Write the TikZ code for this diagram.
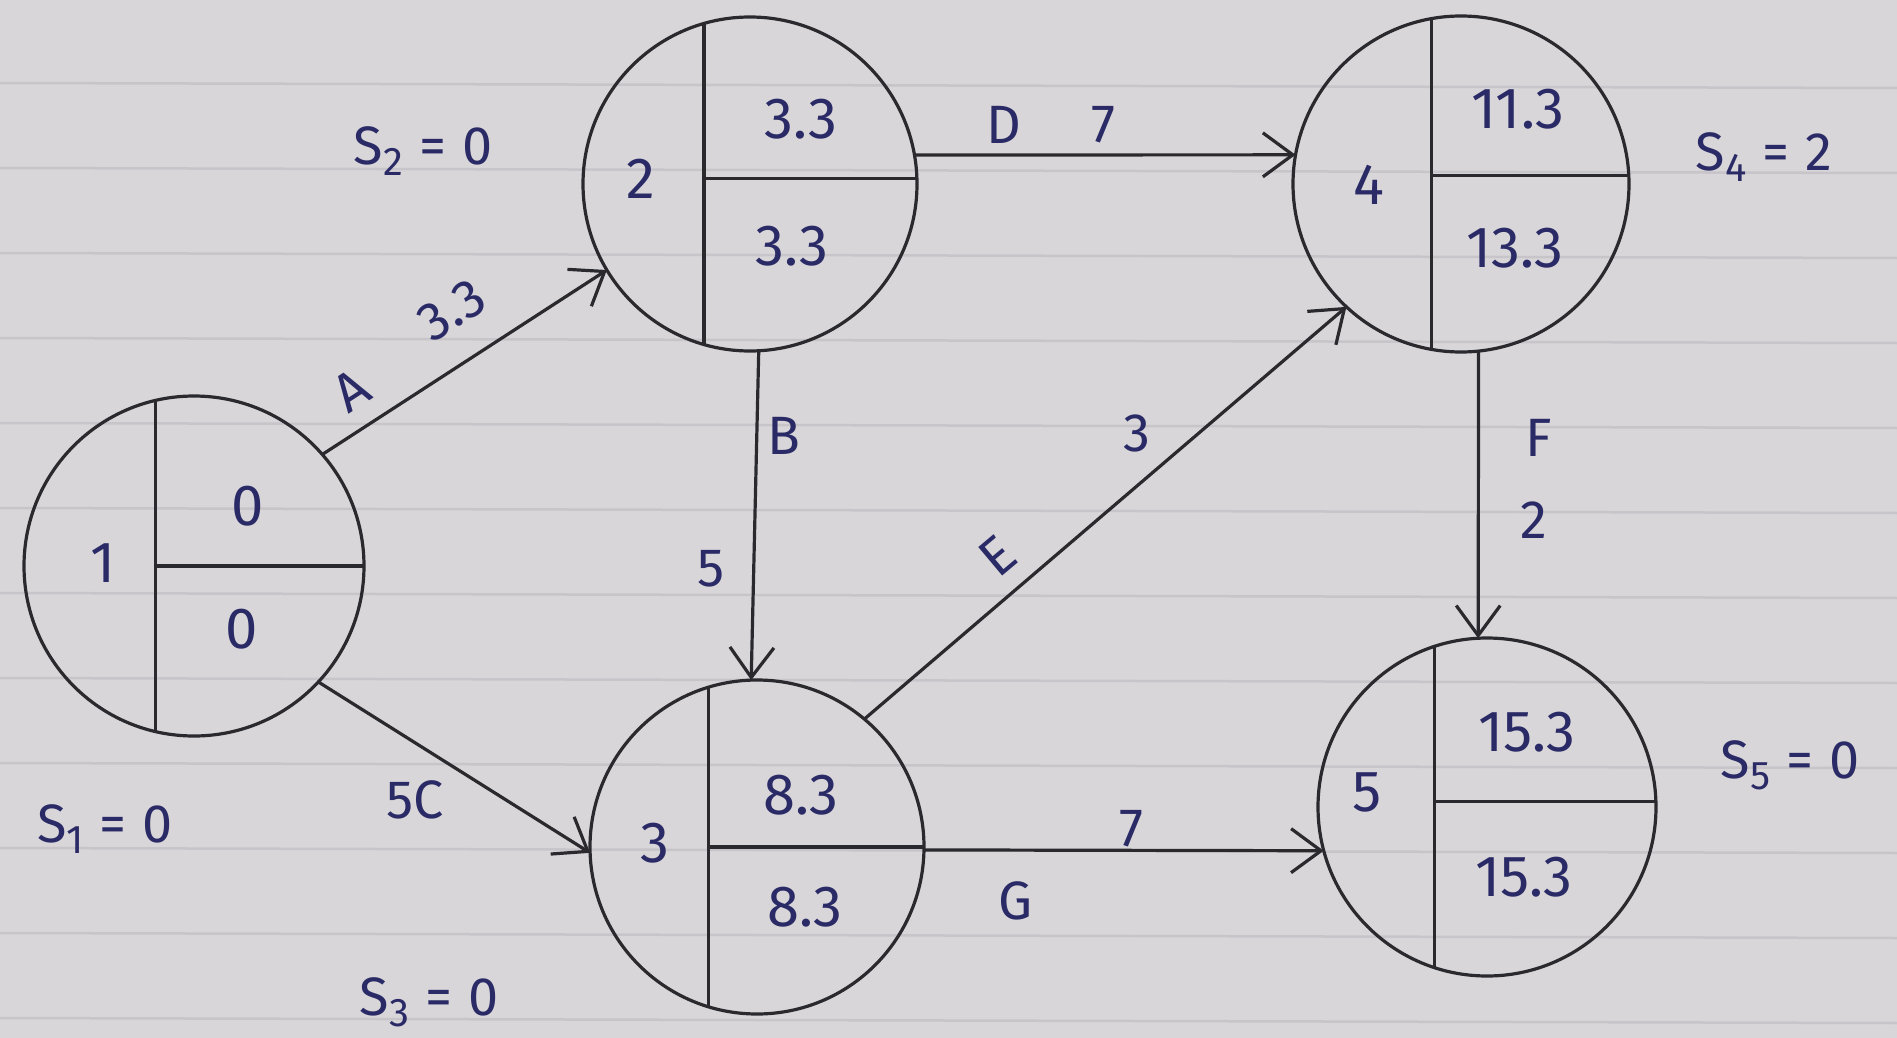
\documentclass[tikz,border=0pt]{standalone}
\usepackage{fontspec}
\setmainfont{Fira Sans}
\usetikzlibrary{arrows.meta}
\definecolor{paper}{HTML}{D9D6DA}
\definecolor{rule}{HTML}{C8C5CA}
\definecolor{ink}{HTML}{2A2B66}
\definecolor{pencil}{HTML}{2A2A2E}
\newcommand\mysub[1]{\raisebox{-0.4ex}{\fontsize{40}{40}\selectfont #1}}
\newcommand\myeq{\hspace{16pt}=\hspace{16pt}}
\tikzset{
  evt/.style={circle,draw=pencil,line width=3.2pt,inner sep=0pt,outer sep=0pt},
  part/.style={draw=pencil,line width=3.2pt},
  act/.style={draw=pencil,line width=3.2pt,-{Straight Barb[length=30pt,width=44pt,line width=3.2pt]}},
  num/.style={text=ink,font=\fontsize{58}{58}\selectfont,inner sep=0pt},
  lab/.style={text=ink,font=\fontsize{54}{54}\selectfont,inner sep=0pt},
  slk/.style={text=ink,font=\fontsize{54}{54}\selectfont,inner sep=0pt},
  ruleline/.style={draw=rule,line width=2.5pt}
}
\begin{document}
\begin{tikzpicture}[x=1pt,y=-1pt]
\useasboundingbox (0,0) rectangle (1897,1038);
\fill[paper] (0,0) rectangle (1897,1038);
\foreach \k in {1,...,12} {\draw[ruleline] (0,85*\k-2) -- (1897,85*\k+3);}
% events
\node[evt,minimum size=340pt] (n1) at (194,566) {};
\node[evt,minimum size=334pt] (n2) at (750,184) {};
\node[evt,minimum size=334pt] (n3) at (757,847) {};
\node[evt,minimum size=336pt] (n4) at (1461,184) {};
\node[evt,minimum size=338pt] (n5) at (1487,807) {};
% partitions
\draw[part] (n1.103) -- (n1.257);
\draw[part] (n1.103 |- n1.center) -- (n1.east);
\draw[part] (n2.106) -- (n2.254);
\draw[part] (n2.106 |- n2.2) -- (n2.2);
\draw[part] (n3.107) -- (n3.253);
\draw[part] (n3.107 |- n3.0) -- (n3.0);
\draw[part] (n4.100) -- (n4.260);
\draw[part] (n4.100 |- n4.3) -- (n4.3);
\draw[part] (n5.108) -- (n5.252);
\draw[part] (n5.108 |- n5.2) -- (n5.2);
% numbers
\node[num] (e1) at (103,563) {1};
\node[num] (e1a) at (248,506) {0};
\node[num] (e1b) at (242,629) {0};
\node[num] (e2) at (641,179) {2};
\node[num] (e2a) at (801,119) {3.3};
\node[num] (e2b) at (792,246) {3.3};
\node[num] (e3) at (655,843) {3};
\node[num] (e3a) at (801,795) {8.3};
\node[num] (e3b) at (805,907) {8.3};
\node[num] (e4) at (1369,185) {4};
\node[num] (e4a) at (1518,109) {11.3};
\node[num] (e4b) at (1515,248) {13.3};
\node[num] (e5) at (1367,792) {5};
\node[num] (e5a) at (1527,732) {15.3};
\node[num] (e5b) at (1524,877) {15.3};
% activities
\draw[act] (n1.41) -- (n2.211);
\draw[act] (n1.-43) -- (n3.182);
\draw[act] (n2.10) -- (n4.170);
\draw[act] (n2.-87) -- (n3.92);
\draw[act] (n3.50) -- (n4.227);
\draw[act] (n4.-84) -- (n5.93);
\draw[act] (n3.-1) -- (n5.195);
% activity labels
\node[lab,rotate=33] (la) at (351,390) {A};
\node[lab,rotate=32] (la2) at (452,310) {3.3};
\node[lab] (lc) at (415,800) {5C};
\node[lab] (ld) at (1004,125) {D};
\node[lab] (ld2) at (1103,125) {7};
\node[lab] (lb) at (784,436) {B};
\node[lab] (lb2) at (711,569) {5};
\node[lab,rotate=40] (le) at (998,556) {E};
\node[lab] (le2) at (1137,433) {3};
\node[lab] (lf) at (1539,438) {F};
\node[lab] (lf2) at (1534,520) {2};
\node[lab] (lg2) at (1131,829) {7};
\node[lab] (lg) at (1016,901) {G};
% slack labels
\node[slk] (s2) at (423,151) {S\mysub{2}\myeq 0};
\node[slk] (s1) at (105,829) {S\mysub{1}\myeq 0};
\node[slk] (s3) at (429,1002) {S\mysub{3}\myeq 0};
\node[slk] (s4) at (1764,157) {S\mysub{4}\myeq 2};
\node[slk] (s5) at (1790,765) {S\mysub{5}\myeq 0};
\end{tikzpicture}
\end{document}
